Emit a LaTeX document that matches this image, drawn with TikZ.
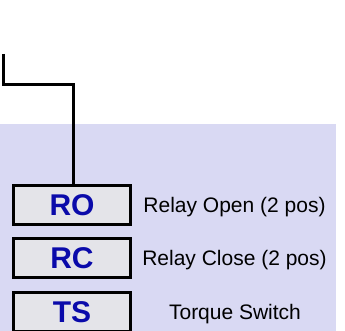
\documentclass[tikz,border=0pt]{standalone}
\usepackage{fontspec}
\setmainfont{Liberation Sans}
\definecolor{panel}{HTML}{D9D9F3}
\definecolor{boxfill}{HTML}{E4E4E9}
\definecolor{codeblue}{HTML}{0A0AAA}
\tikzset{
  codebox/.style={draw=black, line width=3pt, fill=boxfill, minimum width=117pt, minimum height=39pt, inner sep=0pt, text=codeblue, font=\fontsize{30}{30}\selectfont\bfseries},
  desc/.style={inner sep=0pt, text=black, font=\fontsize{21}{21}\selectfont},
  wire/.style={draw=black, line width=3pt}
}
\begin{document}
\begin{tikzpicture}[x=1pt,y=-1pt]
\useasboundingbox (0,0) rectangle (345,331);
\fill[panel] (0,124) rectangle (336,331);
\node[codebox] (RO) at (72,205) {RO};
\node[codebox] (RC) at (72,258) {RC};
\node[codebox] (TS) at (72,312) {TS};
\node[desc] (lRO) at (234.5,207) {Relay Open (2 pos)};
\node[desc] (lRC) at (234.5,260) {Relay Close (2 pos)};
\node[desc] (lTS) at (235,314) {Torque Switch};
\coordinate (s) at (3.5,54);
\coordinate (k) at (73.5,84.5);
\draw[wire] (s) |- (k) -- (k |- RO.north);
\end{tikzpicture}
\end{document}
